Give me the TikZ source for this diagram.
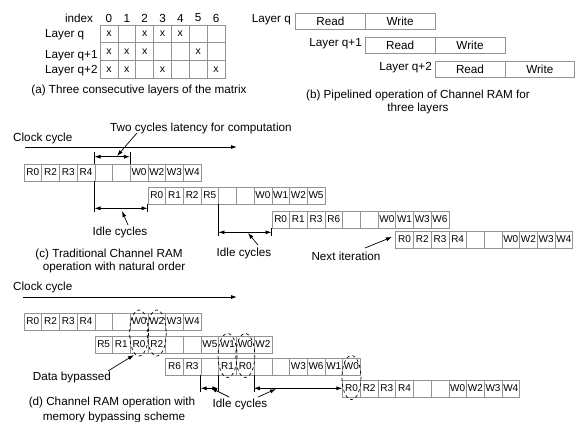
\documentclass[tikz,border=0pt]{standalone}
\usepackage{fontspec}
\setmainfont{Liberation Sans}
\usetikzlibrary{arrows.meta,calc}
\newcommand\cellrow[6]{\foreach \t [count=\i] in {#6} {\node[#1] (#2-\i) at ({#3+(\i-0.5)*#5},#4) {\t};}}
\begin{document}
\begin{tikzpicture}[x=1pt,y=-1pt,
  lbl/.style={inner sep=0pt,font=\fontsize{11.7}{13}\selectfont},
  cellbox/.style={draw=gray!85,line width=0.6pt,minimum width=17.7pt,minimum height=17pt,inner sep=0pt,font=\fontsize{10}{12}\selectfont},
  mcell/.style={draw=gray!85,line width=0.6pt,minimum width=17.86pt,minimum height=17.7pt,inner sep=0pt,font=\fontsize{10.5}{12}\selectfont},
  rw/.style={draw=gray!85,line width=0.6pt,minimum width=69.8pt,minimum height=16pt,inner sep=0pt,font=\fontsize{11.7}{13}\selectfont},
  arr/.style={-{Latex[length=6pt,width=4pt]},line width=0.7pt},
  dim/.style={{Latex[length=6pt,width=4pt]}-{Latex[length=6pt,width=4pt]},line width=0.7pt},
  ext/.style={line width=0.5pt},
  byp/.style={dashed,line width=0.7pt}
]
\useasboundingbox (0,0) rectangle (576,421);
% ---------- (a) ----------
\node[lbl] (idx) at (79,18) {index};
\foreach \n [count=\i] in {0,...,6} {\node[lbl] (num\n) at ({100+(\i-0.5)*17.86},18) {\n};}
\cellrow{mcell}{ma}{100}{33.85}{17.86}{x,{},x,x,x,{},{}}
\cellrow{mcell}{mb}{100}{51.55}{17.86}{x,x,x,{},{},x,{}}
\cellrow{mcell}{mc}{100}{69.25}{17.86}{x,x,{},x,{},{},x}
\node[lbl,anchor=west] (lq) at (45,35) {Layer q};
\node[lbl,anchor=west] (lq1) at (45,56) {Layer q+1};
\node[lbl,anchor=west] (lq2) at (45,71) {Layer q+2};
\node[lbl] (capa) at (139,90) {(a) Three consecutive layers of the matrix};
% ---------- (b) ----------
\node[rw] (rq) at (330.4,21) {Read};
\node[rw] (wq) at (400.2,21) {Write};
\node[rw] (rq1) at (400.2,45) {Read};
\node[rw] (wq1) at (470.0,45) {Write};
\node[rw] (rq2) at (470.0,69) {Read};
\node[rw] (wq2) at (539.8,69) {Write};
\node[lbl,anchor=east] (blq) at (291,20) {Layer q};
\node[lbl,anchor=east] (blq1) at (362,44) {Layer q+1};
\node[lbl,anchor=east] (blq2) at (432,68) {Layer q+2};
\node[lbl] (capb1) at (418,95) {(b) Pipelined operation of Channel RAM for};
\node[lbl] (capb2) at (418,108) {three layers};
% ---------- (c) ----------
\node[lbl,anchor=west] (clk1) at (13,138) {Clock cycle};
\coordinate (ca1) at (25,147); \coordinate (cb1) at (237,147);
\draw[arr,line width=0.9pt] (ca1) -- (cb1);
\node[lbl,anchor=west] (twoc) at (110,128) {Two cycles latency for computation};
\cellrow{cellbox}{c1}{24}{172.5}{17.7}{R0,R2,R3,R4,{},{},W0,W2,W3,W4}
\cellrow{cellbox}{c2}{147.9}{195.5}{17.7}{R0,R1,R2,R5,{},{},W0,W1,W2,W5}
\cellrow{cellbox}{c3}{271.8}{219.5}{17.7}{R0,R1,R3,R6,{},{},W0,W1,W3,W6}
\cellrow{cellbox}{c4}{395.7}{239.5}{17.7}{R0,R2,R3,R4,{},{},W0,W2,W3,W4}
% latency
\draw[ext] (c1-5.north west) -- ++(0,-12) coordinate (lat1);
\draw[ext] (c1-7.north west) -- ++(0,-12) coordinate (lat2);
\draw[dim] ($(lat1)+(0,5)$) -- ($(lat2)+(0,5)$);
\coordinate (latt) at (137,133); \coordinate (lath) at (117,156);
\draw[arr] (latt) -- (lath);
% idle 1
\draw[ext] (c1-5.south west) -- ++(0,31) coordinate (i1a);
\draw[ext] (c2-1.south west) -- ++(0,8) coordinate (i1b);
\draw[dim] ($(i1a)+(0,-4)$) -- ($(i1b)+(0,-4)$);
\node[lbl] (idle1) at (120,232) {Idle cycles};
\coordinate (i1t) at (128,225); \coordinate (i1h) at (122,211);
\draw[arr] (i1t) -- (i1h);
% idle 2
\draw[ext] (c2-5.south west) -- ++(0,32) coordinate (i2a);
\draw[ext] (c3-1.south west) -- ++(0,8) coordinate (i2b);
\draw[dim] ($(i2a)+(0,-4)$) -- ($(i2b)+(0,-4)$);
\node[lbl] (idle2) at (244,253) {Idle cycles};
\coordinate (i2t) at (258,245); \coordinate (i2h) at (248,233);
\draw[arr] (i2t) -- (i2h);
% next iteration
\node[lbl] (nexti) at (346,256) {Next iteration};
\coordinate (nt) at (365,248); \coordinate (nh) at (392,237);
\draw[arr] (nt) -- (nh);
\node[lbl] (capc1) at (109,254) {(c) Traditional Channel RAM};
\node[lbl] (capc2) at (114,267) {operation with natural order};
% ---------- (d) ----------
\node[lbl,anchor=west] (clk2) at (13,287) {Clock cycle};
\coordinate (ca2) at (23,297); \coordinate (cb2) at (237,297);
\draw[arr,line width=0.9pt] (ca2) -- (cb2);
\cellrow{cellbox}{d1}{24}{321.5}{17.7}{R0,R2,R3,R4,{},{},W0,W2,W3,W4}
\cellrow{cellbox}{d2}{94.8}{344.5}{17.7}{R5,R1,R0,R2,{},{},W5,W1,W0,W2}
\cellrow{cellbox}{d3}{165.6}{366.5}{17.7}{R6,R3,{},R1,R0,{},{},W3,W6,W1,W0}
\cellrow{cellbox}{d4}{342.6}{388.5}{17.7}{R0,R2,R3,R4,{},{},W0,W2,W3,W4}
\draw[byp] ($(d1-7)!0.5!(d2-3)$) ellipse [x radius=9.5, y radius=23];
\draw[byp] ($(d1-8)!0.5!(d2-4)$) ellipse [x radius=9.5, y radius=23];
\draw[byp] ($(d2-8)!0.5!(d3-4)$) ellipse [x radius=9.5, y radius=22];
\draw[byp] ($(d2-9)!0.5!(d3-5)$) ellipse [x radius=9.5, y radius=22];
\draw[byp] ($(d3-11)!0.5!(d4-1)$) ellipse [x radius=9.5, y radius=22];
\node[lbl] (datab) at (72,377) {Data bypassed};
\coordinate (dbt) at (108,371); \coordinate (dbh) at (134,355);
\draw[arr] (dbt) -- (dbh);
% idle (d)
\draw[ext] (d3-3.south west) -- ++(0,17) coordinate (j1a);
\draw[ext] (d3-4.south west) -- ++(0,17) coordinate (j1b);
\draw[dim] ($(j1a)+(0,-4)$) -- ($(j1b)+(0,-4)$);
\draw[ext] (d3-6.south west) -- ++(0,17) coordinate (j2a);
\coordinate (j2s) at ($(j2a)+(0,-4)$);
\draw[dim] (j2s) -- (j2s -| d4-1.west);
\node[lbl] (idle3) at (240,404) {Idle cycles};
\coordinate (k1t) at (229,397); \coordinate (k1h) at (211,388);
\draw[arr] (k1t) -- (k1h);
\coordinate (k2t) at (258,397); \coordinate (k2h) at (276,389);
\draw[arr] (k2t) -- (k2h);
\node[lbl] (capd1) at (112,402) {(d) Channel RAM operation with};
\node[lbl] (capd2) at (114,417) {memory bypassing scheme};
\end{tikzpicture}
\end{document}
